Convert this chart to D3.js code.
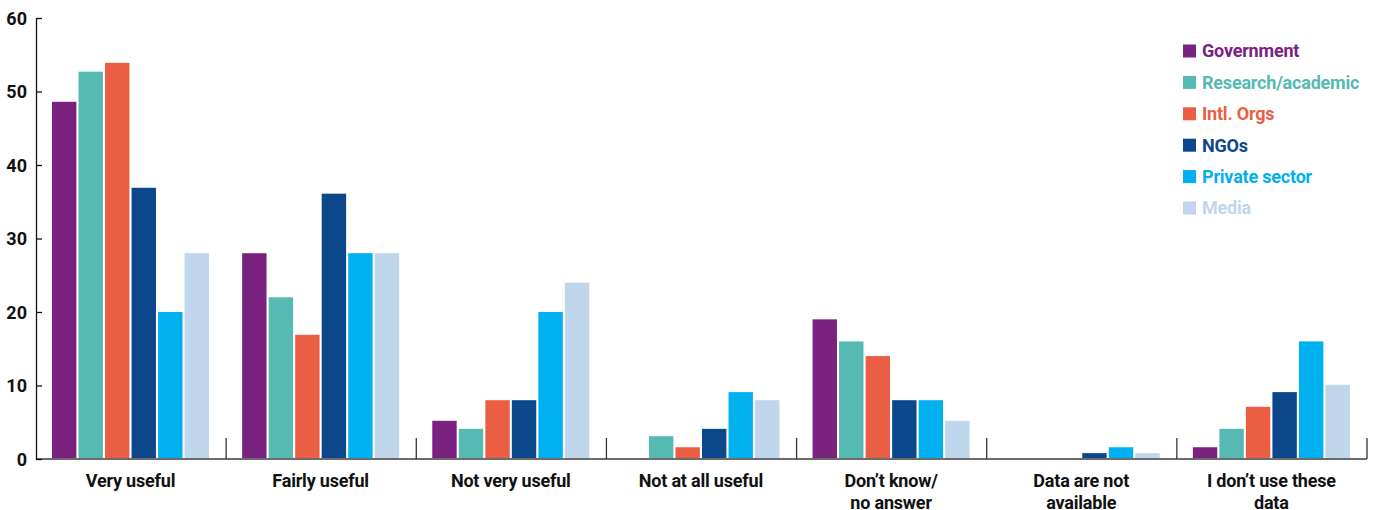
<!DOCTYPE html>
<html>
<head>
<meta charset="utf-8">
<script src="https://cdn.jsdelivr.net/npm/d3@7"></script>
<style>
  html, body { margin: 0; padding: 0; background: #fff; }
  svg { display: block; font-family: Roboto, "Liberation Sans", sans-serif; }
</style>
</head>
<body>
<svg id="chart" width="1381" height="510"></svg>
<script>
// Usefulness ratings by respondent group (percent)
const categories = [
  ["Very useful"],
  ["Fairly useful"],
  ["Not very useful"],
  ["Not at all useful"],
  ["Don\u2019t know/", "no answer"],
  ["Data are  not", "available"],
  ["I don\u2019t use these", "data"]
];
const seriesNames = ["Government", "Research/academic", "Intl. Orgs", "NGOs", "Private sector", "Media"];
const seriesColors = ["#7b2180", "#57b9b3", "#ea5e44", "#0c478b", "#00b0ef", "#bfd6ec"];

const government = [48.6, 28, 5.2, 0, 19, 0, 1.6];
const research   = [52.7, 22, 4.1, 3.1, 16, 0, 4.1];
const intlOrgs   = [53.9, 16.9, 8, 1.6, 14, 0, 7.1];
const ngos       = [36.9, 36.1, 8, 4.1, 8, 0.8, 9.1];
const privateSec = [20, 28, 20, 9.1, 8, 1.6, 16];
const media      = [28, 28, 24, 8, 5.2, 0.8, 10.1];
const seriesValues = [government, research, intlOrgs, ngos, privateSec, media];

const yTicks = [0, 10, 20, 30, 40, 50, 60];

const svg = d3.select("#chart");
const plotLeft = 36, plotRight = 1367, plotTop = 18, plotBottom = 459;

const x0 = d3.scaleBand().domain(d3.range(categories.length)).range([plotLeft, plotRight]).padding(0);
const x1 = d3.scaleBand().domain(d3.range(seriesNames.length)).range([16, 173]).paddingInner(0.08).paddingOuter(0);
const y = d3.scaleLinear().domain([0, 60]).range([plotBottom, plotTop]);

// bars
const groups = svg.append("g").selectAll("g")
  .data(categories.map((c, i) => i))
  .join("g")
  .attr("transform", i => `translate(${x0(i)},0)`);

groups.selectAll("rect")
  .data(i => seriesValues.map((vals, s) => ({ s, v: vals[i] })))
  .join("rect")
  .attr("x", d => x1(d.s))
  .attr("width", x1.bandwidth())
  .attr("y", d => y(d.v))
  .attr("height", d => plotBottom - y(d.v))
  .attr("fill", d => seriesColors[d.s]);

// baseline
svg.append("line")
  .attr("x1", plotLeft).attr("x2", plotRight)
  .attr("y1", plotBottom).attr("y2", plotBottom)
  .attr("stroke", "#6b6b6b").attr("stroke-width", 2);

// group dividers
svg.append("g").selectAll("line")
  .data(d3.range(1, categories.length + 1))
  .join("line")
  .attr("x1", i => i < categories.length ? x0(i) : plotRight)
  .attr("x2", i => i < categories.length ? x0(i) : plotRight)
  .attr("y1", plotBottom - 21).attr("y2", plotBottom)
  .attr("stroke", "#333").attr("stroke-width", 1.3);

// y axis
const yAxis = svg.append("g")
  .attr("transform", `translate(${plotLeft},0)`)
  .call(d3.axisLeft(y).tickValues(yTicks).tickSizeInner(-6).tickSizeOuter(0).tickPadding(9));
yAxis.select(".domain").attr("stroke", "#111").attr("stroke-width", 1.3);
yAxis.selectAll(".tick line").attr("stroke", "#111").attr("stroke-width", 1.3);
yAxis.selectAll(".tick text")
  .attr("font-family", "Roboto, sans-serif")
  .attr("font-size", 18).attr("font-weight", 700).attr("fill", "#111")
  .attr("dy", "0.36em");

// category labels
const labelX = i => x0(i) + x1(0) + (x1(seriesNames.length - 1) + x1.bandwidth() - x1(0)) / 2;
const xl = svg.append("g").selectAll("text")
  .data(categories.map((c, i) => ({ c, i })))
  .join("text")
  .attr("y", 487)
  .attr("text-anchor", "middle")
  .attr("font-size", 18).attr("font-weight", 700).attr("fill", "#111")
  .attr("letter-spacing", "-0.2px");
xl.selectAll("tspan")
  .data(d => d.c.map((t, k) => ({ t, k, x: labelX(d.i) })))
  .join("tspan")
  .attr("x", d => d.x)
  .attr("dy", d => d.k === 0 ? 0 : 22)
  .text(d => d.t);

// legend
const legend = svg.append("g").attr("transform", "translate(1183,51)");
const items = legend.selectAll("g")
  .data(seriesNames.map((n, i) => ({ n, i })))
  .join("g")
  .attr("transform", d => `translate(0,${d.i * 31.4})`);
items.append("rect")
  .attr("x", 0).attr("y", -6.5).attr("width", 13).attr("height", 13)
  .attr("fill", d => seriesColors[d.i]);
items.append("text")
  .attr("x", 19).attr("y", 0).attr("dy", "0.36em")
  .attr("font-size", 18).attr("font-weight", 700)
  .attr("letter-spacing", "-0.2px")
  .attr("fill", d => seriesColors[d.i])
  .text(d => d.n);
</script>
</body>
</html>
